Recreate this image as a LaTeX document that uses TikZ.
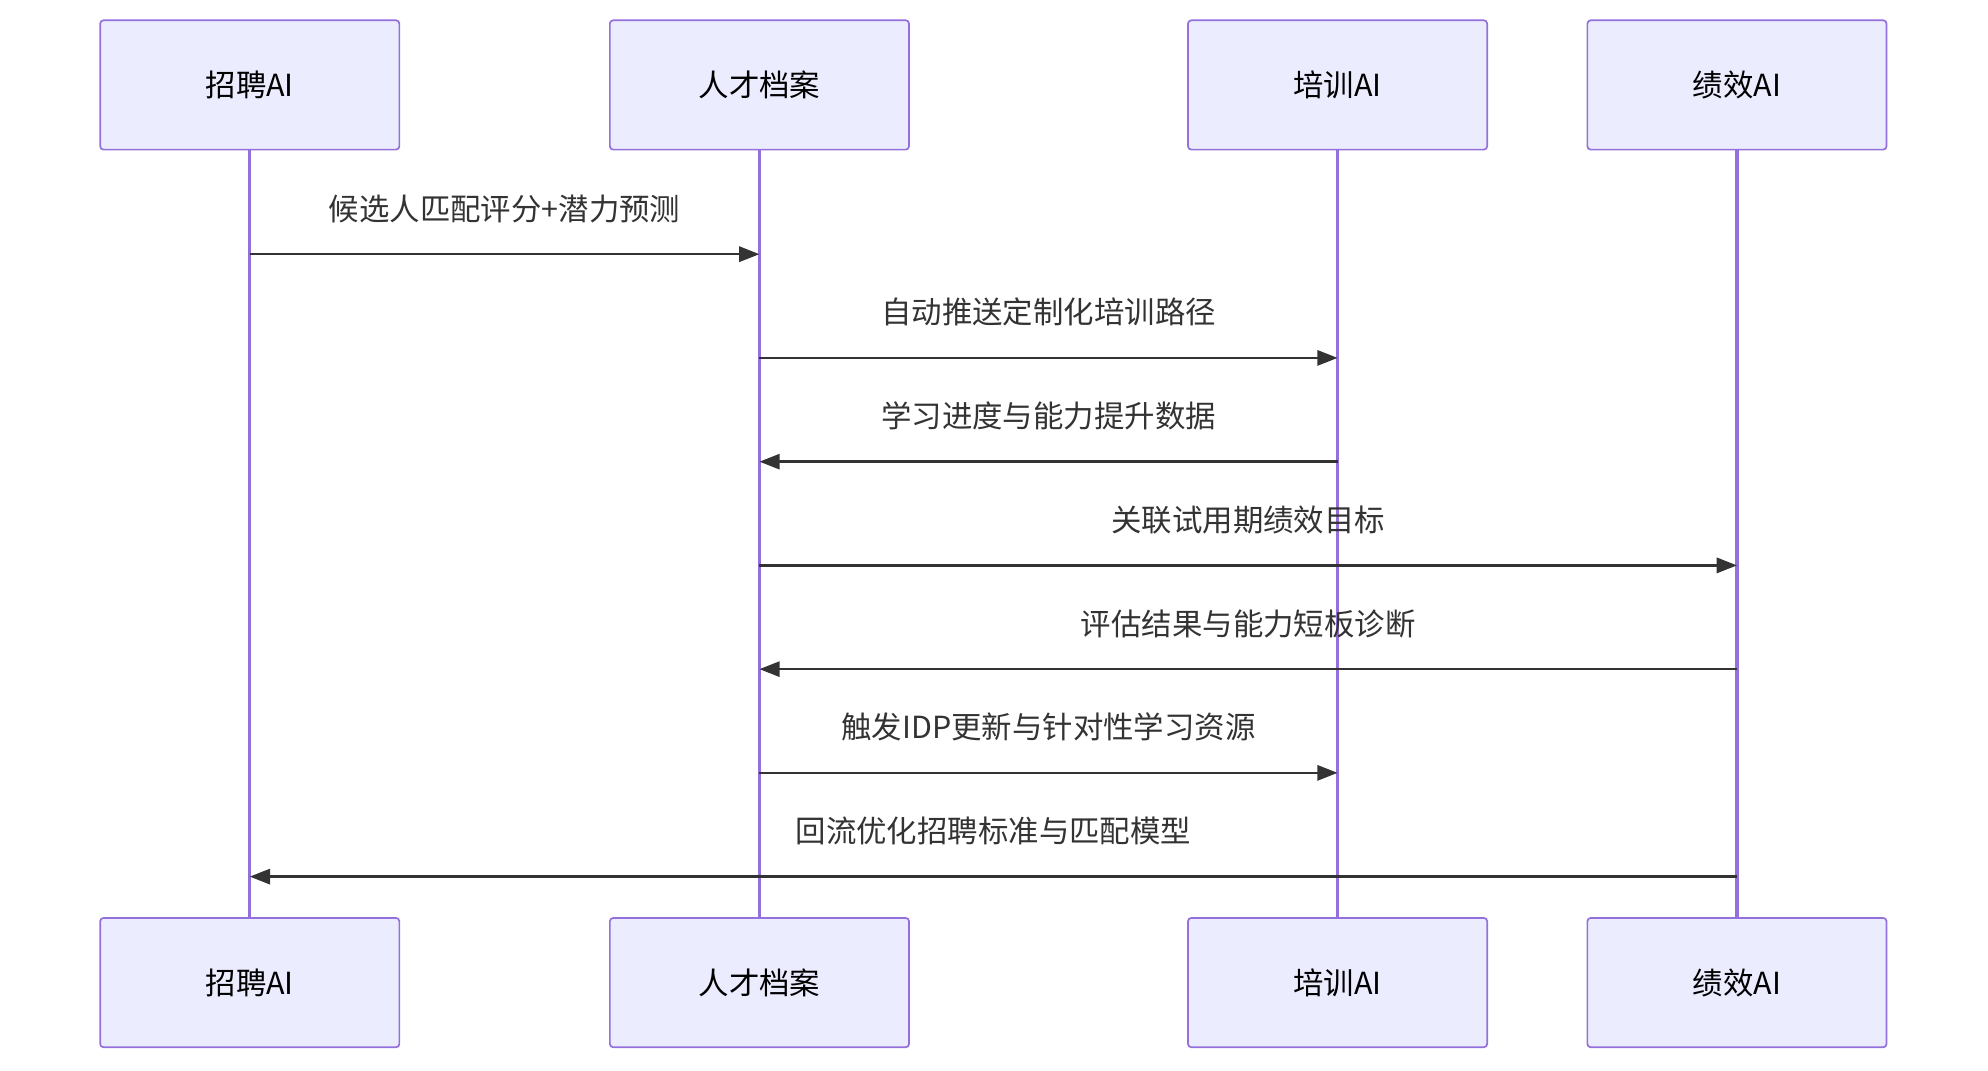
\documentclass[tikz,border=0pt]{standalone}
\usepackage{fontspec}
\setmainfont{Noto Sans CJK SC}
\usetikzlibrary{arrows.meta,calc}
\definecolor{boxfill}{HTML}{ECECFF}
\definecolor{boxline}{HTML}{9370DB}
\definecolor{msg}{HTML}{333333}
\begin{document}
\begin{tikzpicture}[x=0.75pt,y=-0.75pt,
  actor/.style={draw=boxline,fill=boxfill,line width=1pt,rounded corners=2pt,minimum width=177pt,minimum height=76.5pt,font=\fontsize{18}{21}\selectfont,text=black},
  life/.style={draw=boxline,line width=2pt},
  m/.style={draw=msg,line width=1.5pt,-{Triangle[length=12pt,width=9pt]}},
  lbl/.style={font=\fontsize{18}{21}\selectfont,text=msg}]
\useasboundingbox (0,0) rectangle (1568,844);
\foreach \n/\x/\t in {a/197/招聘AI,b/599/人才档案,c/1055/培训AI,d/1370/绩效AI}{
  \draw[life] (\x,118) -- (\x,724);
  \node[actor] (\n1) at (\x,67) {\t};
  \node[actor] (\n2) at (\x,775) {\t};
}
\foreach \f/\t/\y/\s/\o in {
  a/b/200/{候选人匹配评分+潜力预测}/0,
  b/c/282/{自动推送定制化培训路径}/0,
  c/b/364/{学习进度与能力提升数据}/0,
  b/d/446/{关联试用期绩效目标}/0,
  d/b/528/{评估结果与能力短板诊断}/0,
  b/c/610/{触发IDP更新与针对性学习资源}/0,
  d/a/692/{回流优化招聘标准与匹配模型}/0}{
  \draw[m] ($(\f1.south)!{(\y-118)/606}!(\f2.north)$) coordinate (s)
        -- ($(\t1.south)!{(\y-118)/606}!(\t2.north)$) coordinate (e);
  \node[lbl] at ($(s)!0.5!(e)+(\o,-36)$) {\s};
}
\end{tikzpicture}
\end{document}
